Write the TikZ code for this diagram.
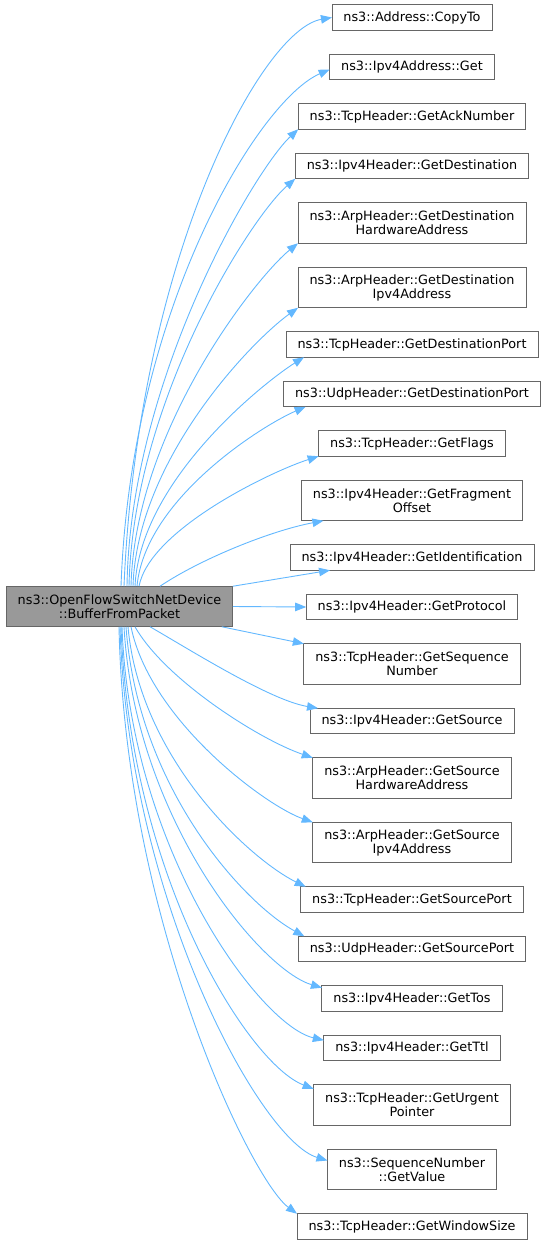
\documentclass[tikz,border=0pt]{standalone}
\usepackage{fontspec}
\setmainfont{DejaVu Sans}
\usetikzlibrary{positioning,arrows.meta}
\definecolor{edgeblue}{HTML}{63B8FF}
\definecolor{boxline}{HTML}{666666}
\definecolor{thisfill}{HTML}{999999}

\begin{document}
\begin{tikzpicture}[
    x=1pt, y=1pt,
    func/.style={rectangle, draw=boxline, line width=0.9pt, fill=white, outer sep=0pt, minimum height=25.5pt, inner xsep=11.5pt, inner ysep=4pt, align=center, font=\fontsize{12.8}{14}\selectfont},
    func2/.style={func, minimum height=40.5pt},
    this/.style={func2, fill=thisfill},
    arrow/.style={edgeblue, line width=0.9pt, -{Triangle[length=11pt,width=8.5pt]}}
]
    \useasboundingbox (0,0) rectangle (547,-1244);

    % Caller
    \node (src) [this] at (119.5,-606.5) {ns3::OpenFlowSwitchNetDevice\\::BufferFromPacket};

    % Callees
    \node (copyto) [func] at (412,-17.5) {ns3::Address::CopyTo};
    \node (v4get) [func, below=24pt of copyto] {ns3::Ipv4Address::Get};
    \node (acknum) [func, below=24pt of v4get] {ns3::TcpHeader::GetAckNumber};
    \node (v4dst) [func, below=24pt of acknum] {ns3::Ipv4Header::GetDestination};
    \node (arpdsthw) [func2, below=24pt of v4dst] {ns3::ArpHeader::GetDestination\\HardwareAddress};
    \node (arpdstip) [func2, below=24pt of arpdsthw] {ns3::ArpHeader::GetDestination\\Ipv4Address};
    \node (tcpdst) [func, below=24pt of arpdstip] {ns3::TcpHeader::GetDestinationPort};
    \node (udpdst) [func, below=24pt of tcpdst] {ns3::UdpHeader::GetDestinationPort};
    \node (flags) [func, below=24pt of udpdst] {ns3::TcpHeader::GetFlags};
    \node (frag) [func2, below=24pt of flags] {ns3::Ipv4Header::GetFragment\\Offset};
    \node (ident) [func, below=24pt of frag] {ns3::Ipv4Header::GetIdentification};
    \node (proto) [func, below=24pt of ident] {ns3::Ipv4Header::GetProtocol};
    \node (seqnum) [func2, below=24pt of proto] {ns3::TcpHeader::GetSequence\\Number};
    \node (v4src) [func, below=24pt of seqnum] {ns3::Ipv4Header::GetSource};
    \node (arpsrchw) [func2, below=24pt of v4src] {ns3::ArpHeader::GetSource\\HardwareAddress};
    \node (arpsrcip) [func2, below=24pt of arpsrchw] {ns3::ArpHeader::GetSource\\Ipv4Address};
    \node (tcpsrc) [func, below=24pt of arpsrcip] {ns3::TcpHeader::GetSourcePort};
    \node (udpsrc) [func, below=24pt of tcpsrc] {ns3::UdpHeader::GetSourcePort};
    \node (tos) [func, below=24pt of udpsrc] {ns3::Ipv4Header::GetTos};
    \node (ttl) [func, below=24pt of tos] {ns3::Ipv4Header::GetTtl};
    \node (urgent) [func2, below=24pt of ttl] {ns3::TcpHeader::GetUrgent\\Pointer};
    \node (seqval) [func2, below=24pt of urgent] {ns3::SequenceNumber\\::GetValue};
    \node (window) [func, below=24pt of seqval] {ns3::TcpHeader::GetWindowSize};

    % Calls, upper half
    \draw [arrow] ([xshift=4.5pt]src.north) .. controls +(14,330) and +(-70,-12) .. (copyto.west);
    \draw [arrow] ([xshift=1.5pt]src.north) .. controls +(10,280) and +(-70,-30) .. ([yshift=-2.5pt]v4get.west);
    \draw [arrow] ([xshift=7.5pt]src.north) .. controls +(3,207) and +(-43,-40) .. (acknum.south west);
    \draw [arrow] ([xshift=9.5pt]src.north) .. controls +(4,187) and +(-43,-37) .. (v4dst.south west);
    \draw [arrow] ([xshift=11.5pt]src.north) .. controls +(4,157) and +(-41,-33) .. (arpdsthw.south west);
    \draw [arrow] ([xshift=13.5pt]src.north) .. controls +(4,127) and +(-46,-33) .. (arpdstip.south west);
    \draw [arrow] ([xshift=15.5pt]src.north) .. controls +(5,107) and +(-37,-23) .. ([xshift=18pt]tcpdst.south west);
    \draw [arrow] ([xshift=17.5pt]src.north) .. controls +(8,87) and +(-44,-19) .. ([xshift=22pt]udpdst.south west);
    \draw [arrow] ([xshift=19.5pt]src.north) .. controls +(11,57) and +(-47,-15) .. (flags.south west);
    \draw [arrow] ([xshift=40.5pt]src.north) .. controls +(40,27) and +(-53,-10) .. ([xshift=22pt]frag.south west);
    \draw [arrow] (src.north east) -- ([xshift=40pt]ident.south west);
    \draw [arrow] (src.east) -- (proto.west);

    % Calls, lower half
    \draw [arrow] ([xshift=-11pt]src.south east) -- (seqnum.north west);
    \draw [arrow] ([xshift=30.5pt]src.south) .. controls +(40,-23) and +(-48,8) .. ([xshift=8pt]v4src.north west);
    \draw [arrow] ([xshift=15.5pt]src.south) .. controls +(30,-53) and +(-53,18) .. (arpsrchw.north west);
    \draw [arrow] ([xshift=11.5pt]src.south) .. controls +(19,-93) and +(-48,17) .. (arpsrcip.north west);
    \draw [arrow] ([xshift=8.5pt]src.south) .. controls +(12,-133) and +(-55,27) .. ([xshift=5pt]tcpsrc.north west);
    \draw [arrow] ([xshift=6.5pt]src.south) .. controls +(12,-163) and +(-59,32) .. ([xshift=6pt]udpsrc.north west);
    \draw [arrow] ([xshift=4.5pt]src.south) .. controls +(11,-193) and +(-61,18) .. ([yshift=-2pt]tos.north west);
    \draw [arrow] ([xshift=2.5pt]src.south) .. controls +(8,-223) and +(-64,15) .. ([yshift=-5pt]ttl.north west);
    \draw [arrow] ([xshift=1.5pt]src.south) .. controls +(9,-253) and +(-64,24) .. ([yshift=-4pt]urgent.north west);
    \draw [arrow] ([xshift=0.5pt]src.south) .. controls +(8,-273) and +(-67,20) .. ([yshift=9pt]seqval.west);
    \draw [arrow] ([xshift=-0.5pt]src.south) .. controls +(6,-293) and +(-46,34) .. (window.north west);
\end{tikzpicture}
\end{document}
